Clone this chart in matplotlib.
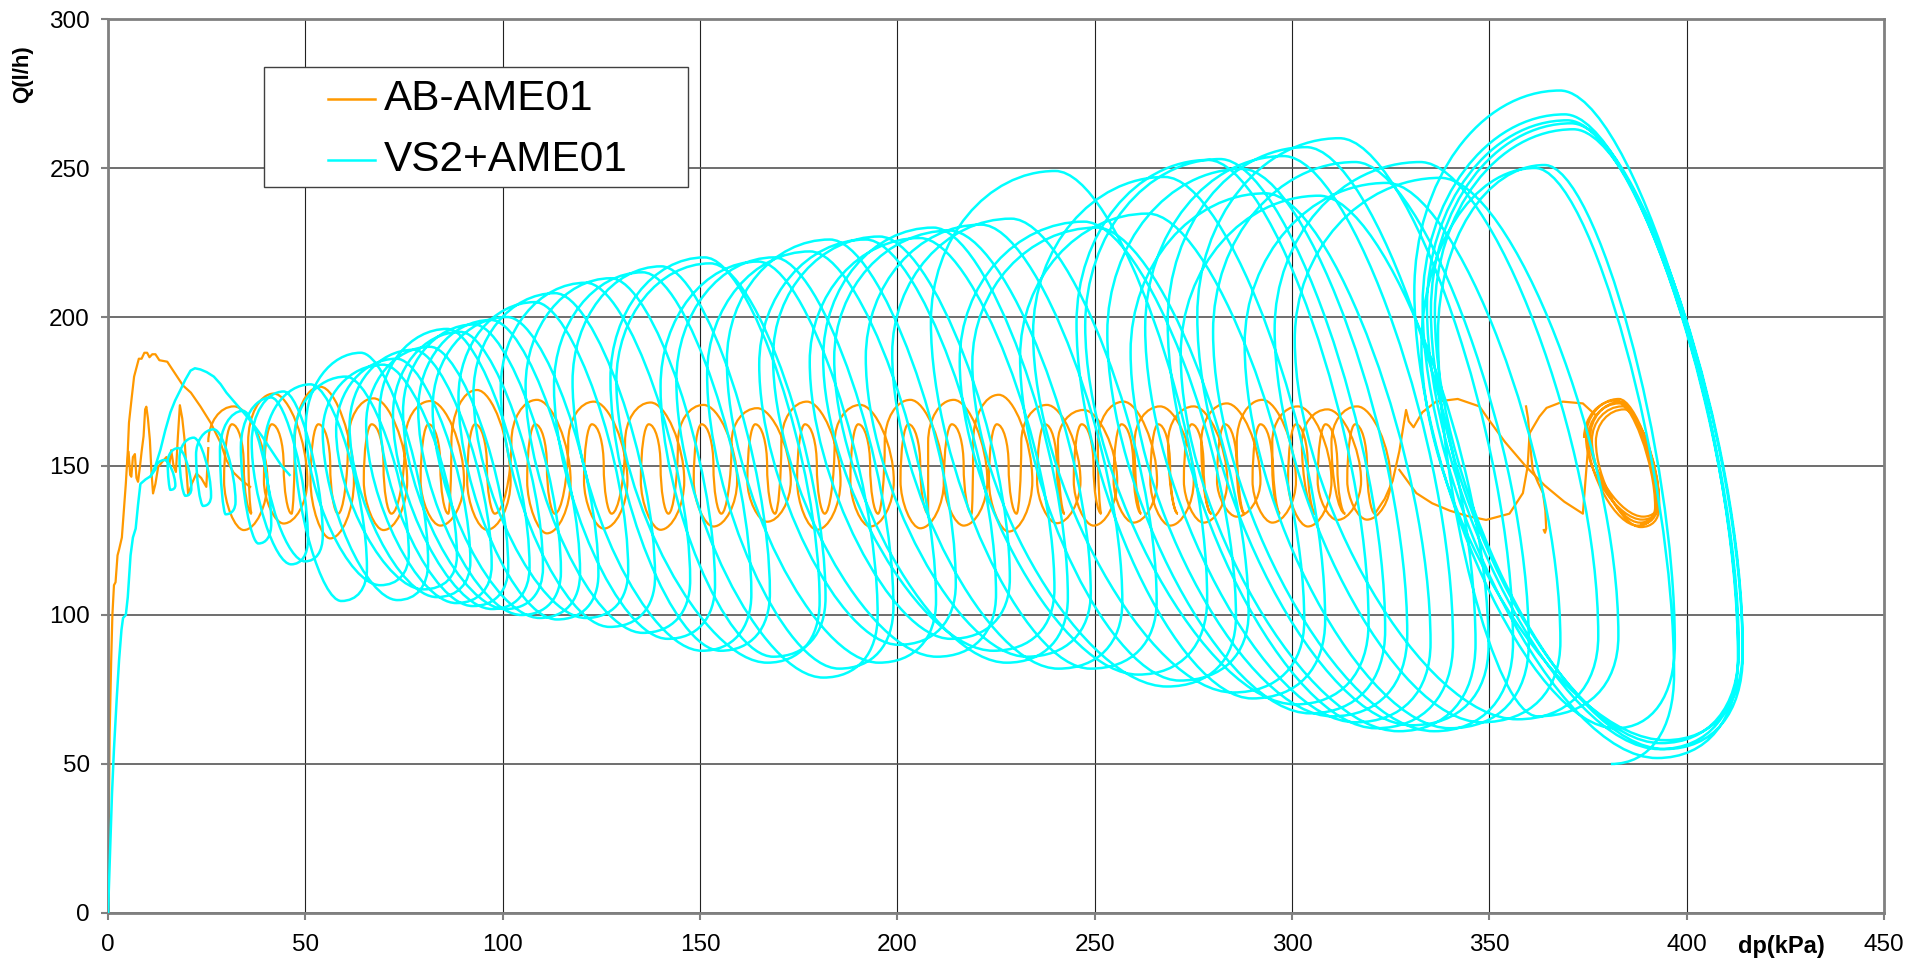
import matplotlib
matplotlib.use('Agg')
import matplotlib.pyplot as plt
from matplotlib.path import Path
from matplotlib.patches import PathPatch, Rectangle

plt.rcParams['font.family'] = ['Liberation Sans', 'DejaVu Sans']

ORANGE = '#FF9900'
CYAN = '#00FFFF'

# VS2+AME01 : one entry per pressure cycle (left dp, loop width, Q max, Q min)
vs2_left = [12.05, 15.1, 18.1, 22.3, 28.35, 33.65, 36.4, 39.6, 47.2, 50.1,
            54.4, 57.8, 61.2, 65.4, 68.8, 72.2, 74.75, 78.6, 82.25, 88.8,
            92.6, 99.5, 105.8, 113.0, 117.7, 127.3, 128.8, 140.0, 144.0, 151.8,
            156.8, 165.0, 168.5, 177.8, 181.2, 184.0, 192.0, 198.7, 208.5, 215.8,
            219.0, 231.1, 234.4, 245.4, 247.6, 253.2, 259.1, 262.8, 268.5, 271.8,
            276.0, 280.0, 288.0, 295.6, 300.7, 337.0, 331.0, 333.1, 334.2, 335.2, 336.2, 332.8]
vs2_width = [5, 6, 8, 10, 13, 17, 18, 26, 29, 31,
             34, 34, 36, 36, 38, 38, 40, 41, 42, 43,
             46, 48, 48, 50, 50, 53, 53, 55, 55, 58,
             58, 60, 60, 62, 62, 65, 65, 67, 70, 70,
             70, 72, 74, 74, 76, 76, 76, 78, 78, 78,
             80, 80, 80, 82, 82, 60, 82, 80, 79, 79, 78, 64]
vs2_qmax = [152, 156, 159.5, 162.3, 168.5, 173, 175, 177.4, 180, 188,
            184, 186, 189, 190, 196, 195, 197.5, 199, 200, 205,
            208, 211.5, 213, 215, 217, 220, 218, 218.6, 220, 222,
            226, 226, 227, 226.5, 230, 229, 231, 233, 249, 232,
            230, 234.7, 247, 252.7, 253, 249.7, 241.5, 254, 257, 240.7,
            260, 252, 245, 252, 246.7, 251, 276, 268, 266, 265, 263, 250]
vs2_qmin = [142, 140, 136.6, 133.8, 124, 117, 118, 104.7, 110, 105,
            108.6, 106, 104, 103, 102, 102, 100, 99, 98.5, 99,
            96, 94, 92, 88, 88, 84, 86, 79, 82, 84,
            90, 86, 92, 88, 84, 86, 82, 82, 80, 76,
            78, 74, 72, 70, 67, 66, 64, 62, 61, 63,
            61, 62, 64, 65, 66, 62, 52, 55, 57, 55, 58, 50]

# VS2+AME01 start-up trace
vs2_start_dp = [0, 0.5, 1.0, 1.5, 2.2, 2.8, 3.4, 3.8, 4.5, 5.0, 5.7, 6.3, 7.0, 7.6, 8.2, 9.5, 10.8, 12.05]
vs2_start_q = [0, 20, 40, 55, 72, 85, 95, 99, 100, 106, 120, 126, 129, 137, 144, 145.5, 146.6, 149]
vs2_hump_dp = [10.8, 12, 13.3, 14.5, 15.8, 17, 18.4, 19.6, 20.9, 22, 23.4, 25, 26.8, 28.5,
               30, 32, 34.3, 36.5, 39, 41.5, 44, 46]
vs2_hump_q = [146.6, 150, 155.6, 162, 168, 172, 175.7, 179, 182, 182.8, 182.4, 181.5, 180, 177.5,
              174.6, 171.5, 168, 164.5, 160, 155, 150, 147]

# AB-AME01 : start-up trace
ab_start_dp = [0, 0.2, 0.4, 0.8, 1.1, 1.5, 1.9, 2.4, 2.8, 3.5, 4.0, 4.5, 5.0, 5.3, 6.0, 6.6, 7.2,
               7.8, 8.5, 9.2, 9.9, 10.5, 11.2, 12, 13, 15, 16, 17.5, 19, 21, 23.4, 26, 28.5,
               30, 31.8, 34, 36]
ab_start_q = [0, 30, 60, 85, 100, 110, 111, 120, 122, 126, 135, 144, 155, 164.5, 173, 180, 183,
              186, 186, 188, 188, 186.5, 187.5, 187.5, 185.5, 185, 183, 180, 177, 174.6, 170, 164.5,
              157.8, 152, 147.8, 145, 143]
ab_wiggle_dp = [4.8, 5.2, 5.6, 5.9, 6.3, 6.8, 7.2, 7.6, 8.1, 8.5, 9.0, 9.4, 9.7, 10.1, 10.6, 11.0,
                11.4, 12.0, 12.7, 13.8, 14.8, 15.5, 16, 16.6, 17.2, 17.7, 18.2, 18.8, 19.4, 19.9,
                20.3, 21.2, 22.4, 23.6, 24.9, 25.4]
ab_wiggle_q = [150, 154.8, 147, 146.4, 153, 154, 146, 144.7, 150, 154.8, 160, 169, 169.9, 166,
               158.7, 148, 140.8, 144, 149.7, 151.5, 153, 150, 155.3, 150, 148, 160, 170.4, 166,
               158.7, 148, 140.2, 144, 147.5, 146, 143, 156]

# AB-AME01 : one entry per cycle (dp at top of the round loop, Q max, Q min)
ab_top = [33.4, 43.5, 55.3, 68.8, 83.2, 95.0, 110.2, 124.6, 139.0, 152.4,
          166.0, 178.6, 192.1, 204.8, 215.8, 227.2, 239.4, 248.7, 258.8, 268.1,
          276.6, 285.0, 294.0, 303.0, 310.5, 318.0]
ab_qmax = [170, 174.3, 176.6, 172.7, 171.8, 175.5, 172.2, 171.6, 171.3, 170.5,
           169.4, 171.6, 170.5, 172.2, 172.2, 173.9, 170.5, 168.8, 171.6, 170,
           170, 171, 172.2, 170, 169, 170]
ab_qmin = [128.5, 130.7, 125.7, 128.5, 130, 128.6, 127.4, 129, 128.6, 129.7,
           131.3, 128.6, 129.7, 129.1, 130, 128, 130.8, 130, 131, 130,
           131, 133, 131, 129.7, 131.9, 132]

# AB-AME01 : end of test
ab_end_dp = [321, 323.5, 325.5, 327.2, 328.3, 328.9, 329.6, 330.8, 333, 336.5, 342, 347.5,
             349.6, 354, 359.3, 364, 369, 373.7, 375]
ab_end_q = [134, 139, 145, 155, 164, 168.8, 165, 163, 168, 171.6, 172.5, 170, 166, 158, 149.8,
            143.5, 138, 134, 156]
ab_back_dp = [377, 373.7, 368.6, 364.5, 362.7, 360.2, 359.7, 358.5, 355.1, 349.2, 344.5, 340,
              335.5, 331.5, 327.2]
ab_back_q = [167, 171, 171.6, 169.5, 166.6, 161, 149.8, 140.9, 134, 131.9, 133.2, 135, 137.5,
             140.9, 148.7]
ab_tail_dp = [359.3, 359.8, 360.5, 361, 362.3, 363.6, 364.2, 364.4, 364.1, 363.8]
ab_tail_q = [170, 166, 155, 148.7, 144.5, 140.9, 135, 129, 127.6, 128.5]
ab_loop_left = [374, 375, 376, 374.5, 377, 375.5]
ab_loop_width = [18, 17.5, 17, 18.5, 16, 17]
ab_loop_qmax = [172, 171, 170, 172.5, 169, 171.5]
ab_loop_qmin = [130, 131, 132, 129.5, 133, 130.5]


def chain_path(pts):
    # smooth curve through extreme points; each point: x, y, tangent ('h'/'v'), handle size of next arc
    verts = [pts[0][:2]]
    codes = [Path.MOVETO]
    for (x0, y0, t0, k), (x1, y1, t1, _) in zip(pts[:-1], pts[1:]):
        c1 = (x0 + k * (x1 - x0), y0) if t0 == 'h' else (x0, y0 + k * (y1 - y0))
        c2 = (x1 - k * (x1 - x0), y1) if t1 == 'h' else (x1, y1 - k * (y1 - y0))
        verts += [c1, c2, (x1, y1)]
        codes += [Path.CURVE4] * 3
    return Path(verts, codes)


def loop_points(left, width, qmax, qmin):
    pts = []
    for l, w, hi, lo in zip(left, width, qmax, qmin):
        mid = (hi + lo) / 2
        r = hi - lo
        pts += [(l, mid + 0.2 * r, 'v', 0.55), (l + 0.45 * w, hi, 'h', 0.4),
                (l + w, mid - 0.35 * r, 'v', 0.62), (l + 0.75 * w, lo, 'h', 0.42)]
    return pts


def ab_points(top, qmax, qmin):
    pts = []
    for t, hi, lo in zip(top, qmax, qmin):
        pts += [(t - 8, 158, 'v', 0.55), (t - 1.5, hi, 'h', 0.45), (t + 7, 145, 'v', 0.5),
                (t + 1, lo, 'h', 0.45), (t - 4, 145, 'v', 0.55), (t - 2, 164, 'h', 0.55),
                (t + 1, 150, 'v', 0.5), (t + 3, 134, 'h', 0.5)]
    return pts


fig = plt.figure(figsize=(19.09, 9.65), dpi=100)
ax = fig.add_axes([0.0566, 0.0539, 0.9303, 0.9264])

lw_ab = 1.6
lw_vs = 1.8

# AB-AME01
ax.plot(ab_start_dp, ab_start_q, color=ORANGE, lw=lw_ab, zorder=2)
ax.plot(ab_wiggle_dp, ab_wiggle_q, color=ORANGE, lw=lw_ab, zorder=2)
ax.add_patch(PathPatch(chain_path(ab_points(ab_top, ab_qmax, ab_qmin)), fill=False,
                       edgecolor=ORANGE, lw=lw_ab, zorder=2))
ax.plot(ab_end_dp, ab_end_q, color=ORANGE, lw=lw_ab, zorder=2)
ax.add_patch(PathPatch(chain_path(loop_points(ab_loop_left, ab_loop_width, ab_loop_qmax, ab_loop_qmin)),
                       fill=False, edgecolor=ORANGE, lw=lw_ab, zorder=2))
ax.plot(ab_back_dp, ab_back_q, color=ORANGE, lw=lw_ab, zorder=2)
ax.plot(ab_tail_dp, ab_tail_q, color=ORANGE, lw=lw_ab, zorder=2)

# VS2+AME01
ax.plot(vs2_start_dp, vs2_start_q, color=CYAN, lw=lw_vs, zorder=3)
ax.plot(vs2_hump_dp, vs2_hump_q, color=CYAN, lw=lw_vs, zorder=3)
ax.add_patch(PathPatch(chain_path(loop_points(vs2_left, vs2_width, vs2_qmax, vs2_qmin)),
                       fill=False, edgecolor=CYAN, lw=lw_vs, zorder=3))

ax.set_xlim(0, 450)
ax.set_ylim(0, 300)
ax.set_xticks(range(0, 451, 50))
ax.set_yticks(range(0, 301, 50))
ax.set_axisbelow(True)
ax.xaxis.grid(True, color='#222222', lw=0.8)
ax.yaxis.grid(True, color='#555555', lw=1.2)
for s in ax.spines.values():
    s.set_color('#808080')
    s.set_linewidth(2)
ax.tick_params(axis='both', direction='out', length=5, width=1.5, color='#808080',
               labelsize=17.5, labelcolor='black')
ax.tick_params(axis='x', pad=10)
ax.tick_params(axis='y', pad=8)

ax.set_xlabel('dp(kPa)', fontsize=17, fontweight='bold', va='center')
ax.xaxis.set_label_coords(0.942, -0.037)
ax.set_ylabel('Q(l/h)', fontsize=16, fontweight='bold', va='center', ha='center')
ax.yaxis.set_label_coords(-0.048, 0.938)

# legend box
ax.add_patch(Rectangle((0.0878, 0.812), 0.2388, 0.1343, transform=ax.transAxes,
                       facecolor='white', edgecolor='#404040', lw=1, zorder=5))
for yy, col, name in [(0.9105, ORANGE, 'AB-AME01'), (0.8423, CYAN, 'VS2+AME01')]:
    ax.plot([0.1239, 0.1503], [yy, yy], transform=ax.transAxes, color=col, lw=1.8, zorder=6)
    ax.text(0.1554, yy, name, transform=ax.transAxes, fontsize=30.5, va='center', ha='left', zorder=6)

fig.savefig('out.png', dpi=100)
